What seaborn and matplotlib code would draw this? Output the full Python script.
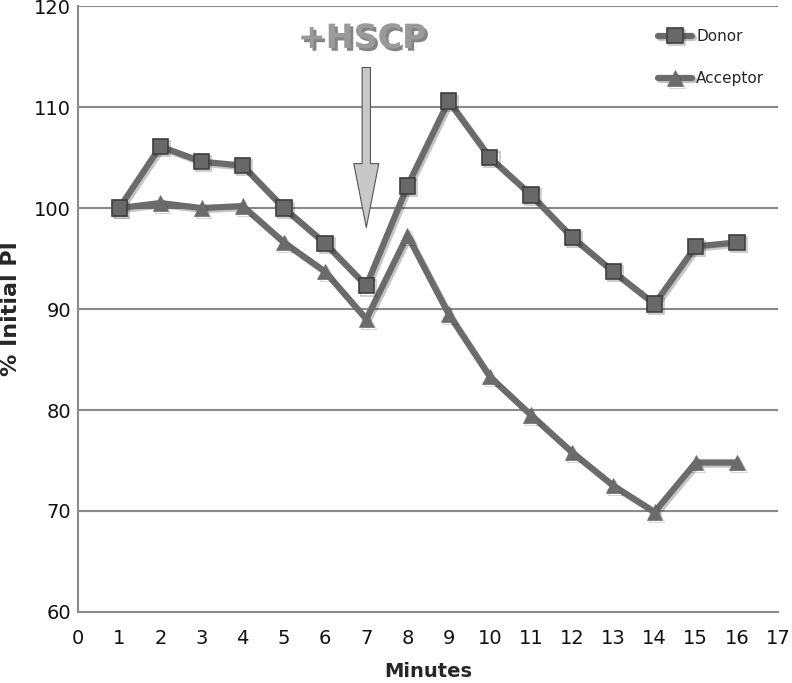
import matplotlib
matplotlib.use("Agg")
import matplotlib.pyplot as plt
import matplotlib.patheffects as pe
import seaborn as sns
import numpy as np

minutes = [1, 2, 3, 4, 5, 6, 7, 8, 9, 10, 11, 12, 13, 14, 15, 16]
donor = [100, 106.1, 104.6, 104.2, 100, 96.5, 92.3, 102.2, 110.6, 105.0, 101.3, 97.1, 93.7, 90.5, 96.2, 96.6]
acceptor = [100, 100.5, 100, 100.2, 96.6, 93.7, 89.0, 97.3, 89.5, 83.3, 79.5, 75.8, 72.5, 69.9, 74.8, 74.8]
x_ticks = list(range(0, 18))
y_ticks = [60, 70, 80, 90, 100, 110, 120]
annotation_text = "+HSCP"
annotation_x = 7

sns.set_theme(style="white")
plt.rcParams['font.family'] = ['Liberation Sans Narrow', 'DejaVu Sans']

fig = plt.figure(figsize=(7.92, 6.83), dpi=100)
ax = fig.add_axes([0.0985, 0.104, 0.884, 0.887])

shadow = [pe.SimpleLineShadow(offset=(1.5, -1.5), alpha=0.25), pe.Normal()]
line_col = "#6b6b6b"
sns.lineplot(x=minutes, y=donor, ax=ax, color=line_col, linewidth=4.5, marker="s",
             markersize=11, markerfacecolor="#686868", markeredgecolor="#3e3e3e",
             markeredgewidth=1.2, label="Donor", path_effects=shadow, zorder=4)
sns.lineplot(x=minutes, y=acceptor, ax=ax, color=line_col, linewidth=4.5, marker="^",
             markersize=11, markerfacecolor="#6b6b6b", markeredgecolor="#6b6b6b",
             markeredgewidth=0.5, label="Acceptor", path_effects=shadow, zorder=3)

ax.set_xlim(0, 17)
ax.set_ylim(60, 120)
ax.set_xticks(x_ticks)
ax.set_yticks(y_ticks)
ax.tick_params(axis='both', length=0, labelsize=14, colors="#111111")
ax.tick_params(axis='x', pad=12)
ax.tick_params(axis='y', pad=5)
for y in y_ticks[1:]:
    ax.axhline(y, color="#8a8a8a", linewidth=1.5, zorder=1)
for s in ["top", "right"]:
    ax.spines[s].set_visible(False)
for s in ["left", "bottom"]:
    ax.spines[s].set_color("#8a8a8a")
    ax.spines[s].set_linewidth(1.5)

ax.set_xlabel("Minutes", fontsize=14, fontweight="bold", labelpad=10)
ax.set_ylabel("% Initial PI", fontsize=16, fontweight="bold")
ax.yaxis.set_label_coords(-0.082, 0.5)

# arrow annotation
ax.annotate("", xy=(annotation_x, 97.8), xytext=(annotation_x, 114.2),
            arrowprops=dict(arrowstyle="simple,head_length=2.3,head_width=0.9,tail_width=0.3",
                            mutation_scale=20,
                            facecolor="#c8c8c8", edgecolor="#555555", linewidth=0.8),
            zorder=5)
ax.text(annotation_x - 0.1, 116.8, annotation_text, ha="center", va="center",
        fontsize=24, fontweight="bold", color="#9a9a9a",
        path_effects=[pe.withSimplePatchShadow(offset=(2, -2), shadow_rgbFace="#333333", alpha=0.6)])

leg = ax.legend(loc="upper right", bbox_to_anchor=(1.0, 0.985), frameon=False,
                fontsize=11, handlelength=2.2, labelspacing=1.8, handletextpad=0.3)

fig.savefig("out.png", dpi=100)
